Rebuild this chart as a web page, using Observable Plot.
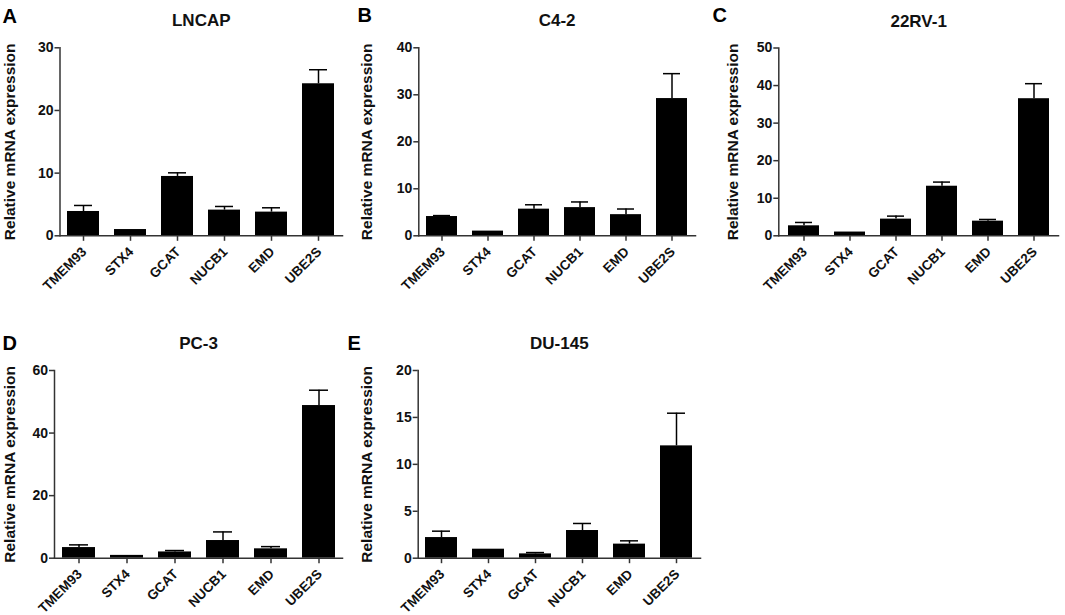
<!DOCTYPE html>
<html>
<head>
<meta charset="utf-8">
<script src="https://cdn.jsdelivr.net/npm/d3@7"></script>
<script src="https://cdn.jsdelivr.net/npm/@observablehq/plot@0.6"></script>
<style>
  body { margin: 0; background: #fff; }
  #wrap { position: relative; width: 1065px; height: 615px; background: #fff; overflow: hidden; }
  #wrap > svg { position: absolute; }
</style>
</head>
<body>
<div id="wrap"></div>
<script>
// ---- data ----
const genes = ["TMEM93", "STX4", "GCAT", "NUCB1", "EMD", "UBE2S"];
const yLabel = "Relative mRNA expression";

const lncapMean = [3.88, 1.0, 9.47, 4.1, 3.78, 24.26];
const lncapErr  = [0.96, 0, 0.58, 0.58, 0.69, 2.24];

const c42Mean = [4.1, 1.0, 5.67, 6.0, 4.5, 29.2];
const c42Err  = [0.2, 0, 0.93, 1.2, 1.2, 5.3];

const rv1Mean = [2.66, 1.0, 4.44, 13.2, 3.9, 36.5];
const rv1Err  = [0.89, 0, 0.8, 1.1, 0.45, 4.0];

const pc3Mean = [3.4, 0.9, 2.0, 5.65, 3.0, 48.8];
const pc3Err  = [0.86, 0, 0.45, 2.75, 0.7, 4.9];

const du145Mean = [2.2, 0.96, 0.46, 2.95, 1.5, 11.97];
const du145Err  = [0.68, 0, 0.14, 0.75, 0.35, 3.48];

const panels = [
  {letter: "A", title: "LNCAP",  mean: lncapMean, err: lncapErr, ticks: [0, 10, 20, 30]},
  {letter: "B", title: "C4-2",   mean: c42Mean,   err: c42Err,   ticks: [0, 10, 20, 30, 40]},
  {letter: "C", title: "22RV-1", mean: rv1Mean,   err: rv1Err,   ticks: [0, 10, 20, 30, 40, 50]},
  {letter: "D", title: "PC-3",   mean: pc3Mean,   err: pc3Err,   ticks: [0, 20, 40, 60]},
  {letter: "E", title: "DU-145", mean: du145Mean, err: du145Err, ticks: [0, 5, 10, 15, 20]}
];

// ---- layout ----
const layout = [
  {left: 0,   top: 0,   width: 355, height: 300, ml: 59.5, mr: 13,  mt: 47.3, mb: 64.7, labelX: 10,   letterX: 2,  letterTop: 8.3},
  {left: 355, top: 0,   width: 355, height: 300, ml: 63.3, mr: 15,  mt: 47.3, mb: 64.7, labelX: 12,   letterX: 2,  letterTop: 7.5},
  {left: 710, top: 0,   width: 355, height: 300, ml: 68.3, mr: 7,   mt: 47.5, mb: 64.7, labelX: 22.5, letterX: 2,  letterTop: 7.5},
  {left: 0,   top: 300, width: 355, height: 315, ml: 54,   mr: 13,  mt: 70,   mb: 57.3, labelX: 10,   letterX: 2,  letterTop: 35},
  {left: 355, top: 300, width: 355, height: 315, ml: 62.7, mr: 10,  mt: 70,   mb: 57.3, labelX: 12,   letterX: -8, letterTop: 35}
];

const wrap = document.getElementById("wrap");
const axisColor = "#333";

panels.forEach((p, i) => {
  const L = layout[i];
  const data = genes.map((g, j) => ({gene: g, mean: p.mean[j], top: p.mean[j] + p.err[j]}));
  const withErr = data.filter(d => d.top > d.mean);
  const yMax = p.ticks[p.ticks.length - 1];
  const chart = Plot.plot({
    width: L.width,
    height: L.height,
    marginLeft: L.ml,
    marginRight: L.mr,
    marginTop: L.mt,
    marginBottom: L.mb,
    style: {
      fontFamily: "'Liberation Sans', Arial, sans-serif",
      fontSize: "13px",
      fontWeight: "bold",
      color: "#111",
      background: "transparent",
      overflow: "visible"
    },
    x: {domain: genes, paddingInner: 0.32, paddingOuter: 0.16, label: null, axis: null},
    y: {domain: [0, yMax], label: null, axis: null},
    marks: [
      Plot.barY(data, {x: "gene", y: "mean", fill: "#000"}),
      Plot.ruleX(withErr, {x: "gene", y1: "mean", y2: "top", stroke: "#000", strokeWidth: 1.5}),
      Plot.tickY(withErr, {x: "gene", y: "top", stroke: "#000", strokeWidth: 1.5, insetLeft: 7, insetRight: 7}),
      Plot.frame({anchor: "left", stroke: axisColor, strokeWidth: 1.5}),
      Plot.frame({anchor: "bottom", stroke: axisColor, strokeWidth: 1.5}),
      // y ticks + labels
      Plot.axisY({ticks: p.ticks, tickSize: 5, stroke: axisColor, strokeWidth: 1.5, tickFormat: () => "", label: null}),
      Plot.text(p.ticks, {y: d => d, frameAnchor: "left", dx: -6.5, textAnchor: "end", lineAnchor: "middle", fontSize: 14, fontWeight: "bold", fill: "#111"}),
      // x ticks + labels
      Plot.axisX({tickSize: 5.5, stroke: axisColor, strokeWidth: 1.5, tickFormat: () => "", label: null}),
      Plot.text(genes, {x: d => d, frameAnchor: "bottom", rotate: -45, textAnchor: "end", lineAnchor: "top", dx: -3, dy: 10, fontSize: 13.5, fontWeight: "bold", fill: "#111"}),
      // titles
      Plot.text([p.title], {frameAnchor: "top", dy: -33.5, lineAnchor: "top", fontSize: 17, fontWeight: "bold", fill: "#111"}),
      Plot.text([yLabel], {frameAnchor: "left", dx: L.labelX - L.ml, rotate: -90, textAnchor: "middle", lineAnchor: "middle", fontSize: 15.5, fontWeight: "bold", fill: "#111"}),
      Plot.text([p.letter], {frameAnchor: "top-left", dx: L.letterX - L.ml, dy: L.letterTop - L.mt, lineAnchor: "top", textAnchor: "start", fontSize: 20, fontWeight: "bold", fill: "#000"})
    ]
  });
  chart.style.left = L.left + "px";
  chart.style.top = L.top + "px";
  wrap.appendChild(chart);
});
</script>
</body>
</html>
